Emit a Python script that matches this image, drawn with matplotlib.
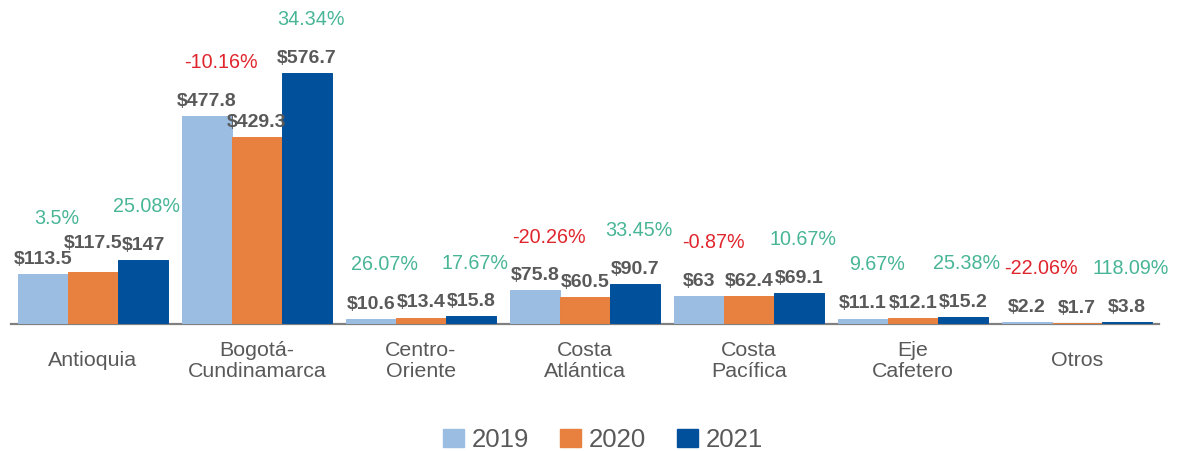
import matplotlib
matplotlib.use("Agg")
import matplotlib.pyplot as plt
from matplotlib.patches import Patch

plt.rcParams['font.family'] = ['Liberation Sans', 'DejaVu Sans']

categories = ['Antioquia', 'Bogotá-\nCundinamarca', 'Centro-\nOriente', 'Costa\nAtlántica',
              'Costa\nPacífica', 'Eje\nCafetero', 'Otros']
years = ['2019', '2020', '2021']
v2019 = [113.5, 477.8, 10.6, 75.8, 63, 11.1, 2.2]
v2020 = [117.5, 429.3, 13.4, 60.5, 62.4, 12.1, 1.7]
v2021 = [147, 576.7, 15.8, 90.7, 69.1, 15.2, 3.8]
pct_2020 = [3.5, -10.16, 26.07, -20.26, -0.87, 9.67, -22.06]
pct_2021 = [25.08, 34.34, 17.67, 33.45, 10.67, 25.38, 118.09]

colors = ['#9BBDE2', '#E8803F', '#00509B']
green = '#48B597'
red = '#E0262D'
gray = '#595959'

W, H = 1181, 451
fig = plt.figure(figsize=(W / 100, H / 100), dpi=100)
ax = fig.add_axes([11 / W, (H - 324) / H, 1148 / W, 324 / H])

series = [v2019, v2020, v2021]
bw = 50 / 164
x = list(range(len(categories)))
for j, vals in enumerate(series):
    ax.bar([i + (j - 1) * bw for i in x], vals, width=bw, color=colors[j], label=years[j],
           zorder=3, edgecolor=colors[j], linewidth=0.7)

ax.set_xlim(-0.5, len(categories) - 0.5)
ax.set_ylim(-1.5, 745.8)
ax.set_yticks([])
for s in ['top', 'right', 'left']:
    ax.spines[s].set_visible(False)
ax.spines['bottom'].set_color('#808080')
ax.spines['bottom'].set_linewidth(1.6)
ax.spines['bottom'].set_zorder(2)
ax.set_xticks(x)
ax.set_xticklabels(categories, fontsize=15.4, color=gray, linespacing=1.12)
ax.tick_params(axis='x', length=0, pad=26.5)
for t in ax.get_xticklabels():
    t.set_verticalalignment('center')

# value labels
val_anns = []
for i in x:
    row = []
    for j, vals in enumerate(series):
        a = ax.annotate(f"${vals[i]:g}", xy=(i + (j - 1) * bw, vals[i]), xytext=(0, 10.5),
                        textcoords='offset points', ha='center', va='center',
                        fontsize=14, fontweight='bold', color=gray, annotation_clip=False)
        row.append(a)
    val_anns.append(row)

# percentage labels
for i in x:
    p1 = pct_2020[i]
    top1 = max(v2019[i], v2020[i])
    ax.annotate(f"{p1:g}%", xy=(i - 0.72 * bw, top1), xytext=(0, 38.5),
                textcoords='offset points', ha='center', va='center', fontsize=14.2,
                color=green if p1 >= 0 else red, annotation_clip=False)
    p2 = pct_2021[i]
    top2 = max(v2020[i], v2021[i])
    ax.annotate(f"{p2:g}%", xy=(i + 1.08 * bw, top2), xytext=(0, 38.5),
                textcoords='offset points', ha='center', va='center', fontsize=14.2,
                color=green if p2 >= 0 else red, annotation_clip=False)

# resolve overlaps between adjacent value labels
fig.canvas.draw()
r = fig.canvas.get_renderer()
for row in val_anns:
    for j in range(1, len(row)):
        prev = row[j - 1].get_window_extent(r)
        cur = row[j].get_window_extent(r)
        hov = min(prev.x1, cur.x1) - max(prev.x0, cur.x0)
        vov = min(prev.y1, cur.y1) - max(prev.y0, cur.y0)
        if hov > 6 and vov > 0:
            shift = (prev.y1 - cur.y0 - 1) * 72 / fig.dpi
            ox, oy = row[j].xyann
            row[j].xyann = (ox, oy + shift)
            fig.canvas.draw()

handles = [Patch(color=c) for c in colors]
fig.legend(handles, years, loc='center', bbox_to_anchor=(603 / W, 11 / H), ncol=3,
           frameon=False, fontsize=18.5, labelcolor=gray, handlelength=0.82,
           handleheight=0.74, handletextpad=0.3, columnspacing=1.2)

fig.savefig('out.png', dpi=100)
